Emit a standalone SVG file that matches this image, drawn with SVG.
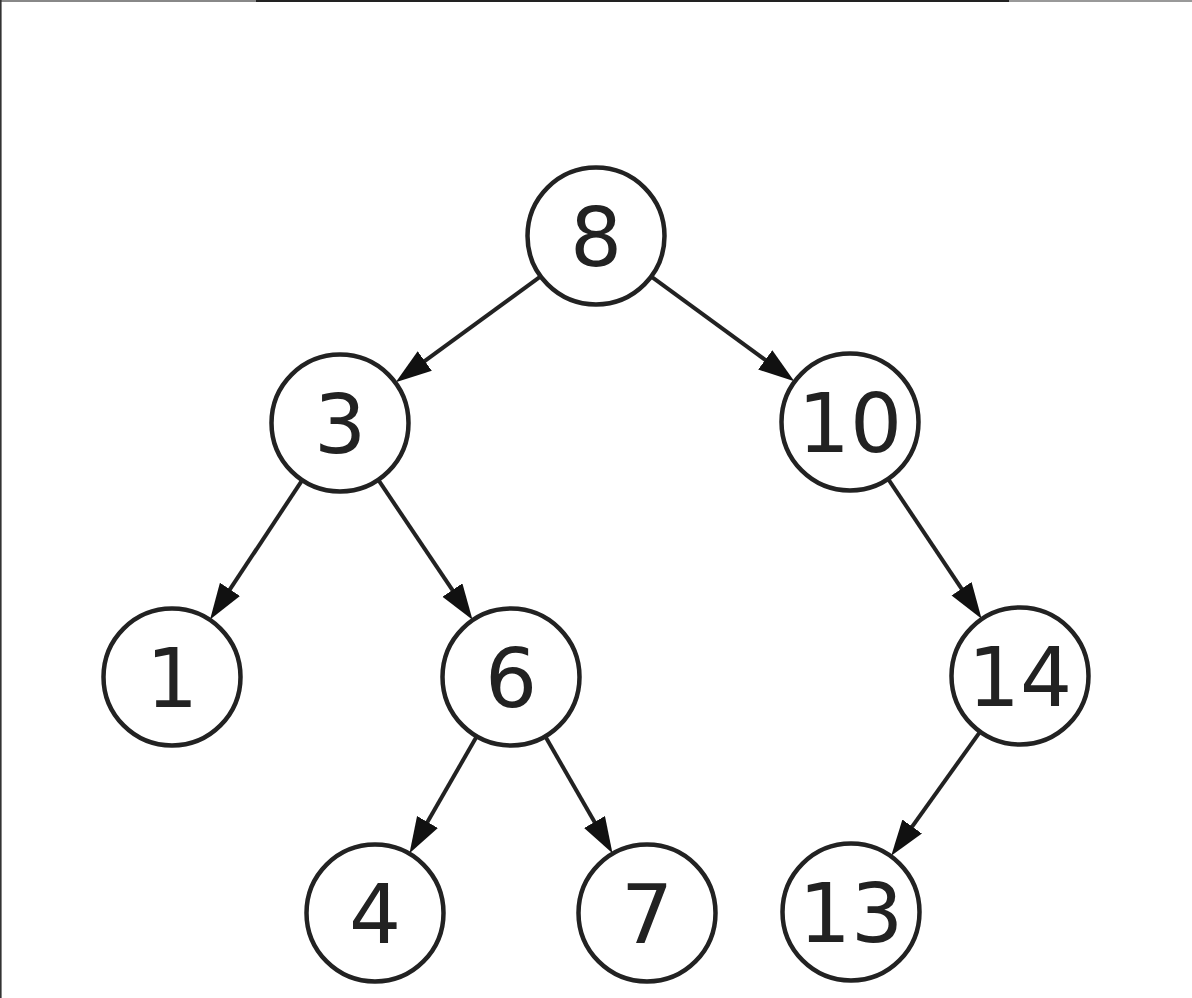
<svg xmlns="http://www.w3.org/2000/svg" width="1192" height="998" viewBox="0 0 1192 998">
<style>
.node circle{fill:#fff;stroke:#222;stroke-width:4.5}
.node text{font-family:"DejaVu Sans",sans-serif;font-size:82px;fill:#222;text-anchor:middle}
.edge{stroke:#222;stroke-width:4;fill:none;marker-end:url(#arr)}
</style>
<defs>
<marker id="arr" markerUnits="userSpaceOnUse" markerWidth="40" markerHeight="28" refX="24" refY="12" orient="auto">
<path d="M0,0 L36,12 L0,24 z" fill="#111"/>
</marker>
</defs>
<rect width="1192" height="998" fill="#fff"/>
<g id="frame">
<rect x="0" y="0" width="256" height="2" fill="#888"/>
<rect x="256" y="0" width="753" height="2" fill="#222"/>
<rect x="1009" y="0" width="183" height="2" fill="#999"/>
<rect x="0" y="0" width="1.6" height="998" fill="#333"/>
</g>
<g id="connectors">
<line class="edge" x1="540.3" y1="276.7" x2="405.4" y2="375.2"/>
<line class="edge" x1="651.7" y1="276.8" x2="784.6" y2="374.1"/>
<line class="edge" x1="301.9" y1="480.6" x2="216.7" y2="609.4"/>
<line class="edge" x1="378.5" y1="480.2" x2="465.8" y2="609.9"/>
<line class="edge" x1="888.4" y1="479.3" x2="974.9" y2="608.7"/>
<line class="edge" x1="476.5" y1="736.8" x2="415.5" y2="842.8"/>
<line class="edge" x1="545.5" y1="736.8" x2="606.5" y2="842.8"/>
<line class="edge" x1="979.8" y1="732.1" x2="898.2" y2="846.1"/>
</g>
<g id="n8" class="node"><circle cx="596" cy="236" r="68.5"/><text x="596" y="266">8</text></g>
<g id="n3" class="node"><circle cx="340" cy="423" r="68.5"/><text x="340" y="453">3</text></g>
<g id="n10" class="node"><circle cx="850" cy="422" r="68.5"/><text x="850" y="452">10</text></g>
<g id="n1" class="node"><circle cx="172" cy="677" r="68.5"/><text x="172" y="707">1</text></g>
<g id="n6" class="node"><circle cx="511" cy="677" r="68.5"/><text x="511" y="707">6</text></g>
<g id="n14" class="node"><circle cx="1020" cy="676" r="68.5"/><text x="1020" y="706">14</text></g>
<g id="n4" class="node"><circle cx="375" cy="913" r="68.5"/><text x="375" y="943">4</text></g>
<g id="n7" class="node"><circle cx="647" cy="913" r="68.5"/><text x="647" y="943">7</text></g>
<g id="n13" class="node"><circle cx="851" cy="912" r="68.5"/><text x="851" y="942">13</text></g>
</svg>
